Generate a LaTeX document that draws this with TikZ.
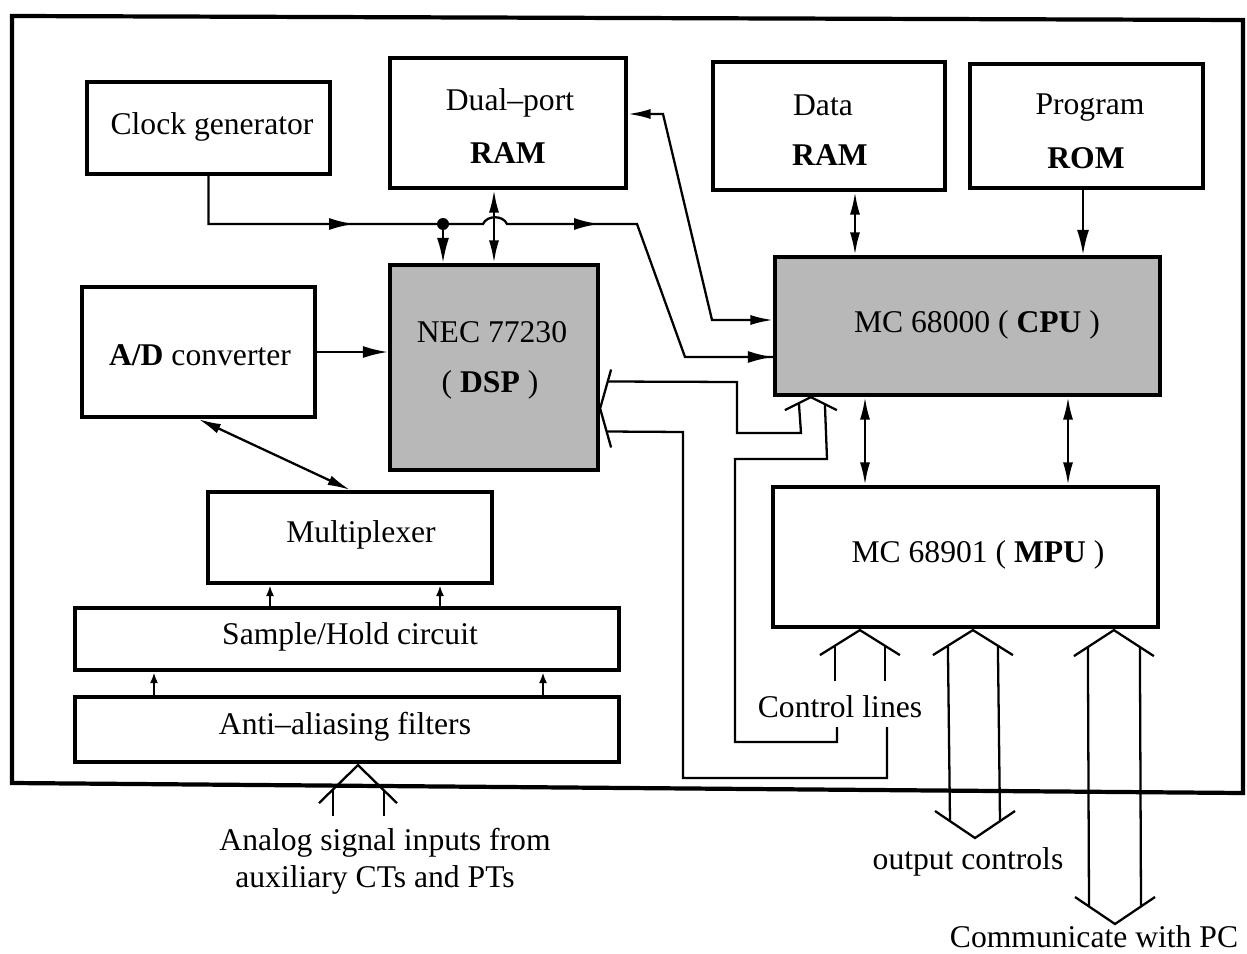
\documentclass[tikz,border=0pt]{standalone}
\usepackage{fontspec}
\setmainfont{Liberation Serif}
\usetikzlibrary{arrows.meta,fit,calc}
\begin{document}
\begin{tikzpicture}[x=0.02cm,y=-0.02cm,
  box/.style={draw, line width=2.4pt, inner sep=0pt},
  shadedbox/.style={box, fill=black!28},
  txt/.style={font=\fontsize{18}{21}\selectfont, inner sep=0pt, align=center},
  conn/.style={line width=1.3pt},
  arr/.style={conn, -{Latex[length=0.5cm,width=0.24cm]}},
  dbl/.style={conn, {Latex[length=0.45cm,width=0.2cm]}-{Latex[length=0.45cm,width=0.2cm]}},
  smallarr/.style={conn, -{Latex[length=0.22cm,width=0.16cm]}},
  chev/.style={line width=1.3pt, line join=miter},
]
\useasboundingbox (0,0) rectangle (1247,953);
% outer frame
\draw[line width=2.4pt] (12,16) -- (1243,20) -- (1243,793) -- (12,783) -- cycle;

% boxes
\node[box, fit={(87,82)(330,174)}] (clk) {};
\node[box, fit={(390,58)(626,188)}] (ram1) {};
\node[box, fit={(713,62)(945,190)}] (dram) {};
\node[box, fit={(970,64)(1203,188)}] (prom) {};
\node[shadedbox, fit={(390,265)(598,470)}] (dsp) {};
\node[box, fit={(82,287)(315,417)}] (adc) {};
\node[shadedbox, fit={(775,257)(1160,395)}] (cpu) {};
\node[box, fit={(773,487)(1158,627)}] (mpu) {};
\node[box, fit={(208,492)(492,583)}] (mux) {};
\node[box, fit={(75,608)(619,670)}] (sh) {};
\node[box, fit={(75,697)(619,762)}] (aaf) {};

% texts
\node[txt] (clkt) at (212,127) {Clock generator};
\node[txt] (ram1a) at (510,103) {Dual--port};
\node[txt] (ram1b) at (508,153) {\textbf{RAM}};
\node[txt] (drama) at (823,105) {Data};
\node[txt] (dramb) at (830,155) {\textbf{RAM}};
\node[txt] (proma) at (1090,108) {Program};
\node[txt] (promb) at (1086,158) {\textbf{ROM}};
\node[txt] (dspa) at (492,332) {NEC 77230};
\node[txt] (dspb) at (490,385) {( \textbf{DSP} )};
\node[txt] (adct) at (200,355) {\textbf{A/D} converter};
\node[txt] (cput) at (977,325) {MC 68000 ( \textbf{CPU} )};
\node[txt] (mput) at (978,555) {MC 68901 ( \textbf{MPU} )};
\node[txt] (muxt) at (361,535) {Multiplexer};
\node[txt] (sht) at (350,637) {Sample/Hold circuit};
\node[txt] (aaft) at (345,727) {Anti--aliasing filters};
\node[txt] (ctl) at (840,707) {Control lines};
\node[txt] (ana1) at (385,843) {Analog signal inputs from};
\node[txt] (ana2) at (375,880) {auxiliary CTs and PTs};
\node[txt] (outc) at (968,862) {output controls};
\node[txt] (pc) at (1094,937) {Communicate with PC};

% clock line with junction and hop
\coordinate (j) at (443,224);
\node[circle, fill, inner sep=0pt, minimum size=0.24cm] (jdot) at (j) {};
\path (cpu.west) ++(0,31) coordinate (cpuin2);
\path (cpu.west) ++(0,-6) coordinate (cpuin1);
\draw[conn] (clk.south) |- (j) -- (483,224) .. controls (487,215) and (503,215) .. (507,224)
  -- (637,224) -- (685,357) -- (cpuin2);
\draw[arr] (300,224) -- (354,224);
\draw[arr] (560,224) -- (599,224);
\draw[arr] (cpuin2) ++(-40,0) -- (cpuin2);
\draw[arr] (jdot) -- (j |- dsp.north);

% dual-port RAM <-> DSP and CPU
\draw[dbl] (ram1.south -| dsp.north) -- (dsp.north);
\path (ram1.east) ++(0,-9) coordinate (r1e);
\draw[dbl] (r1e) -- (663,114) -- (712,320) -- (cpuin1);

% A/D
\draw[arr] (adc.east) -- (adc.east -| dsp.west);
\draw[dbl] (adc.south) -- (mux.north);

% S/H -> MUX, AAF -> S/H
\coordinate (xm1) at (270,0);
\coordinate (xm2) at (440,0);
\coordinate (xs1) at (154,0);
\coordinate (xs2) at (543,0);
\draw[smallarr] (xm1 |- sh.north) -- (xm1 |- mux.south);
\draw[smallarr] (xm2 |- sh.north) -- (xm2 |- mux.south);
\draw[smallarr] (xs1 |- aaf.north) -- (xs1 |- sh.south);
\draw[smallarr] (xs2 |- aaf.north) -- (xs2 |- sh.south);

% Data RAM, ROM, CPU, MPU
\coordinate (xd) at (855,0);
\coordinate (xr) at (1083,0);
\coordinate (xc1) at (865,0);
\coordinate (xc2) at (1068,0);
\draw[dbl] (xd |- dram.south) -- (xd |- cpu.north);
\draw[arr] (xr |- prom.south) -- (xr |- cpu.north);
\draw[dbl] (xc1 |- cpu.south) -- (xc1 |- mpu.north);
\draw[dbl] (xc2 |- cpu.south) -- (xc2 |- mpu.north);

% chevron on DSP east side
\path (dsp.east) ++(0,41) coordinate (dspch);
\draw[chev] (dspch) ++(11,-39) -- (dspch) -- ++(11,39);
% chevron on CPU bottom
\path (cpu.south west) ++(38,0) coordinate (cpuch);
\draw[chev] (cpuch) ++(-26,13) -- (cpuch) -- ++(26,13);

% control line paths
\draw[conn] ($(dspch)+(8,-27)$) -- (737,382) -- (737,433) -- (801,433) -- ($(cpuch)+(-12,6)$);
\draw[conn] ($(cpuch)+(14,7)$) -- (827,459) -- (735,459) -- (735,742) -- (837,742) -- (837,727);
\draw[conn] ($(dspch)+(7,23)$) -- (683,432) -- (683,778) -- (887,778) -- (887,727);

% MPU bottom: control lines chevron
\path (mpu.south west) ++(89,1) coordinate (mch1);
\draw[chev] (mch1) ++(-40,25) -- (mch1) -- ++(40,25);
\draw[conn] ($(mch1)+(-25,16)$) -- ++(0,35);
\draw[conn] ($(mch1)+(25,16)$) -- ++(0,35);

% output controls double chevron
\path (mpu.south west) ++(202,1) coordinate (och);
\coordinate (ocb) at (975,838);
\draw[chev] (och) ++(-40,25) -- (och) -- ++(40,25);
\draw[chev] (ocb) ++(-40,-27) -- (ocb) -- ++(40,-27);
\draw[conn] ($(och)+(-25,16)$) -- ($(ocb)+(-25,-17)$);
\draw[conn] ($(och)+(25,16)$) -- ($(ocb)+(25,-17)$);

% communicate with PC double chevron
\path (mpu.south west) ++(343,1) coordinate (pch);
\coordinate (pcb) at (1115,924);
\draw[chev] (pch) ++(-40,26) -- (pch) -- ++(40,26);
\draw[chev] (pcb) ++(-40,-27) -- (pcb) -- ++(40,-27);
\draw[conn] ($(pch)+(-26,17)$) -- ($(pcb)+(-26,-18)$);
\draw[conn] ($(pch)+(26,17)$) -- ($(pcb)+(26,-18)$);

% analog inputs chevron
\path (aaf.south) ++(11,1) coordinate (ach);
\draw[chev] (ach) ++(-39,38) -- (ach) -- ++(39,38);
\draw[conn] ($(ach)+(-25,24)$) -- ++(0,27);
\draw[conn] ($(ach)+(26,25)$) -- ++(0,26);
\end{tikzpicture}
\end{document}
